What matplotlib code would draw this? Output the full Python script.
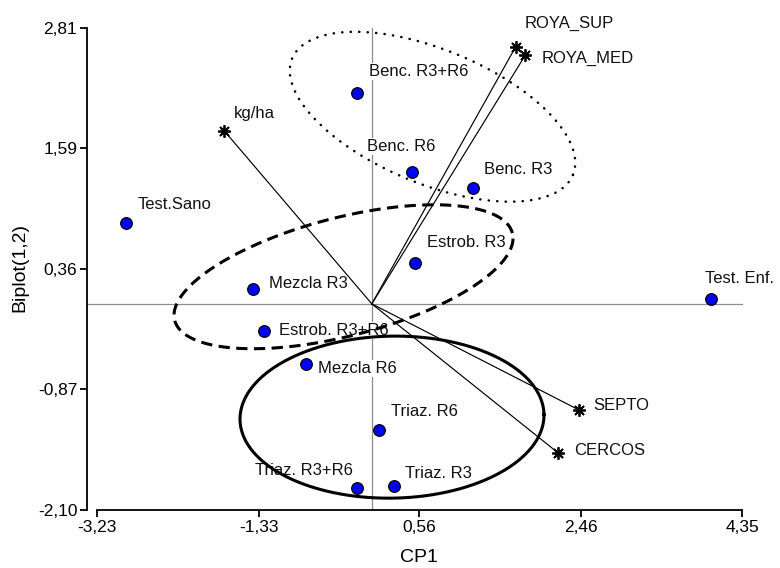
import matplotlib
matplotlib.use('Agg')
import matplotlib.pyplot as plt
import numpy as np

plt.rcParams['font.family'] = ['Liberation Sans', 'DejaVu Sans']

# tratamientos (observaciones)
obs_names = ['Test.Sano', 'Benc. R3+R6', 'Benc. R6', 'Benc. R3', 'Estrob. R3',
             'Test. Enf.', 'Mezcla R3', 'Estrob. R3+R6', 'Mezcla R6',
             'Triaz. R6', 'Triaz. R3+R6', 'Triaz. R3']
obs_x = [-2.89, -0.17, 0.47, 1.19, 0.51, 3.98, -1.40, -1.27, -0.77, 0.08, -0.17, 0.26]
obs_y = [0.82, 2.15, 1.34, 1.18, 0.42, 0.05, 0.15, -0.28, -0.61, -1.29, -1.88, -1.86]

# variables (vectores)
var_names = ['kg/ha', 'ROYA_SUP', 'ROYA_MED', 'SEPTO', 'CERCOS']
var_x = [-1.73, 1.69, 1.80, 2.43, 2.19]
var_y = [1.76, 2.62, 2.53, -1.08, -1.52]

xticks = [-3.23, -1.33, 0.56, 2.46, 4.35]
xtick_labels = ['-3,23', '-1,33', '0,56', '2,46', '4,35']
yticks = [-2.10, -0.87, 0.36, 1.59, 2.81]
ytick_labels = ['-2,10', '-0,87', '0,36', '1,59', '2,81']

# label offsets in pixels (dx, dy, ha)
obs_off = [(12, 19, 'left'), (12, 21, 'left'), (-45, 26, 'left'), (11, 19, 'left'),
           (12, 20, 'left'), (-6, 20, 'left'), (16, 6, 'left'), (15, 1, 'left'),
           (12, -5, 'left'), (12, 19, 'left'), (-4, 18, 'right'), (11, 13, 'left')]
var_off = [(9, 18), (9, 23), (17, -3), (15, 4), (16, 3)]

# groups: center (data), semi axes (px), angle (deg), style
ellipses = [
    ((0.713, 1.906), 152.0, 67.0, -22.5, dict(ls=(0, (0.1, 3.3)), lw=1.8, dash_capstyle='round')),
    ((-0.332, 0.276), 174.4, 59.1, 14.5, dict(ls=(0, (3.7, 2.1)), lw=2.2)),
    ((0.237, -1.154), 152.0, 81.0, 1.0, dict(ls='-', lw=2.2)),
]

fig = plt.figure(figsize=(7.8, 5.68), dpi=100)
ax = fig.add_axes([96.7 / 780, 1 - 510 / 568, (742.3 - 96.7) / 780, (510 - 28) / 568])
ax.set_xlim(-3.23, 4.35)
ax.set_ylim(-2.10, 2.81)

ax.spines['top'].set_visible(False)
ax.spines['right'].set_visible(False)
ax.spines['left'].set_position(('outward', 7))
for s in ['left', 'bottom']:
    ax.spines[s].set_linewidth(1.3)
ax.tick_params(direction='out', length=5, width=1.3, labelsize=12.5, pad=2)
ax.set_xticks(xticks)
ax.set_xticklabels(xtick_labels)
ax.set_yticks(yticks)
ax.set_yticklabels(ytick_labels)

ax.axhline(0, xmin=-0.015, color='#8c8c8c', lw=0.9, clip_on=False, zorder=1)
ax.axvline(0, color='#8c8c8c', lw=0.9, zorder=1)

# ellipses drawn in pixel space then mapped back to data
t = np.linspace(0, 2 * np.pi, 400)
for (cx, cy), a, b, ang, style in ellipses:
    c = ax.transData.transform((cx, cy))
    th = np.deg2rad(ang)
    px = c[0] + a * np.cos(t) * np.cos(th) - b * np.sin(t) * np.sin(th)
    py = c[1] + a * np.cos(t) * np.sin(th) + b * np.sin(t) * np.cos(th)
    pts = ax.transData.inverted().transform(np.column_stack([px, py]))
    ax.plot(pts[:, 0], pts[:, 1], color='black', zorder=3, clip_on=False, **style)

box = dict(boxstyle='square,pad=0.05', fc='white', ec='none')
for i in range(len(var_names)):
    ax.plot([0, var_x[i]], [0, var_y[i]], color='black', lw=0.85, zorder=3)
    ax.plot(var_x[i], var_y[i], marker=(8, 2, 0), ms=9, mew=1.3, color='black', zorder=4)
    dx, dy = var_off[i]
    ax.annotate(var_names[i], (var_x[i], var_y[i]), xytext=(dx, dy),
                textcoords='offset pixels', ha='left', va='center', fontsize=12,
                color='#111111', bbox=box, zorder=2)

ax.scatter(obs_x, obs_y, s=70, c='#0000ff', edgecolors='black', linewidths=0.9, zorder=5)
for i in range(len(obs_names)):
    dx, dy, ha = obs_off[i]
    ax.annotate(obs_names[i], (obs_x[i], obs_y[i]), xytext=(dx, dy),
                textcoords='offset pixels', ha=ha, va='center', fontsize=12,
                color='#111111', bbox=box, zorder=2)

fig.text(419 / 780, 1 - 558 / 568, 'CP1', ha='center', va='center', fontsize=14)
fig.text(20 / 780, 1 - 268 / 568, 'Biplot(1,2)', ha='center', va='center',
         rotation=90, fontsize=14)

fig.savefig('out.png', dpi=100)
